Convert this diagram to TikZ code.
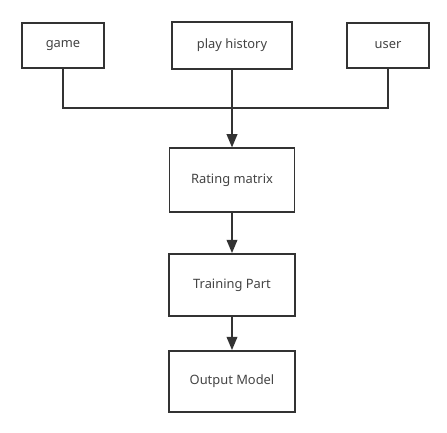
\documentclass[tikz,border=0pt]{standalone}
\usepackage{fontspec}
\setmainfont{Noto Sans}
\usetikzlibrary{arrows.meta}
\definecolor{linegray}{HTML}{333333}
\definecolor{textgray}{HTML}{444444}
\tikzset{
  box/.style={draw=linegray, line width=1.5pt, fill=white, text=textgray,
    font=\fontsize{11}{13}\selectfont, inner sep=0pt},
  link/.style={draw=linegray, line width=1.5pt},
  flow/.style={link, -{Triangle[length=0.4cm, width=0.32cm]}}
}
\begin{document}
\begin{tikzpicture}[x=0.03cm, y=-0.03cm, line join=miter]
    \useasboundingbox (0,0) rectangle (447,433);

    % top row
    \node[box, minimum width=2.46cm, minimum height=1.35cm] (game) at (63,45.5) {game};
    \node[box, minimum width=3.6cm, minimum height=1.41cm] (history) at (232,45.5) {play history};
    \node[box, minimum width=2.46cm, minimum height=1.35cm] (user) at (388,45.5) {user};

    % pipeline
    \node[box, minimum width=3.75cm, minimum height=1.9cm] (rating) at (232,180) {Rating matrix};
    \node[box, minimum width=3.8cm, minimum height=1.86cm] (training) at (232,285) {Training Part};
    \node[box, minimum width=3.8cm, minimum height=1.83cm] (output) at (232,381.5) {Output Model};

    \coordinate (join) at (232,108);

    % connectors
    \draw[link] (game.south) |- (join) -| (user.south);
    \draw[flow] (history.south) -- (rating.north);
    \draw[flow] (rating.south) -- (training.north);
    \draw[flow] (training.south) -- (output.north);

\end{tikzpicture}
\end{document}
